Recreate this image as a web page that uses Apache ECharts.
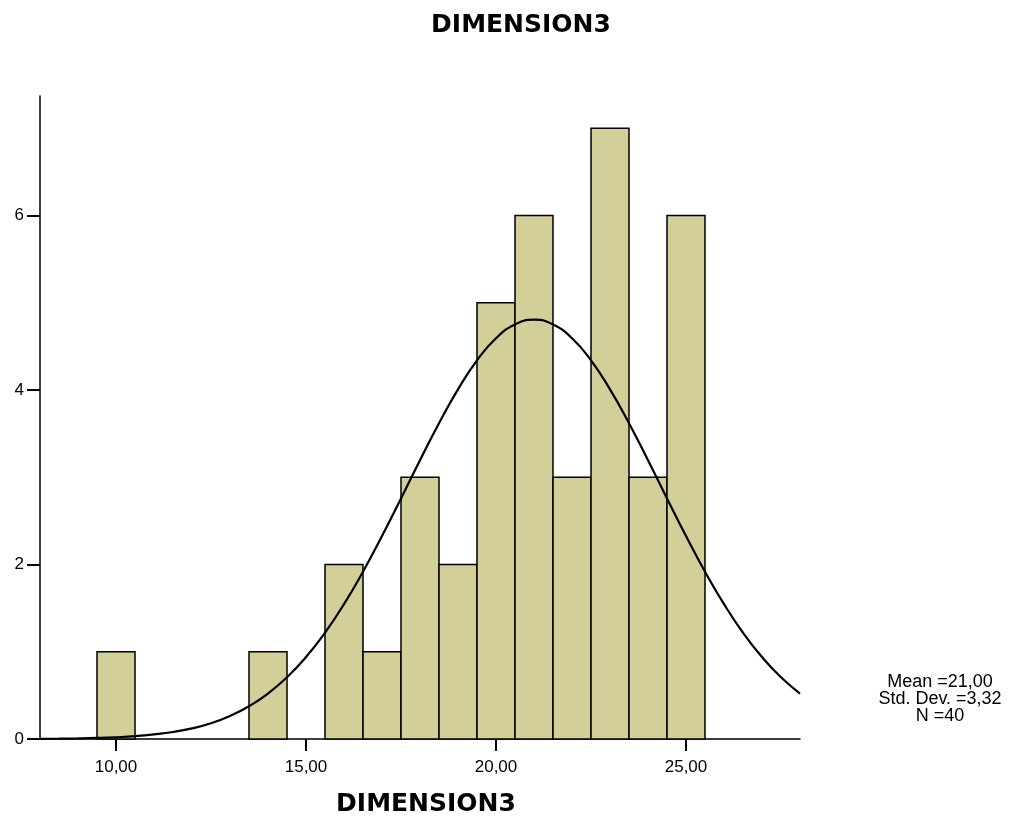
<!DOCTYPE html>
<html>
<head>
<meta charset="utf-8">
<script src="https://cdn.jsdelivr.net/npm/echarts@6/dist/echarts.min.js"></script>
<style>html,body{margin:0;padding:0;background:#fff}#c{width:1011px;height:817px}</style>
</head>
<body>
<div id="c"></div>
<script>
// Histogram bins (center value) and frequencies
const binCenters = [10, 14, 16, 17, 18, 19, 20, 21, 22, 23, 24, 25];
const binCounts  = [1, 1, 2, 1, 3, 2, 5, 6, 3, 7, 3, 6];
const binWidth = 1;
// Normal curve
const curveX = [8, 8.5, 9, 9.5, 10, 10.5, 11, 11.5, 12, 12.5, 13, 13.5, 14, 14.5, 15, 15.5, 16, 16.5, 17, 17.5, 18, 18.5, 19, 19.5, 20, 20.5, 21, 21.5, 22, 22.5, 23, 23.5, 24, 24.5, 25, 25.5, 26, 26.5, 27, 27.5, 28];
const curveY = [0.002, 0.004, 0.007, 0.012, 0.020, 0.032, 0.052, 0.080, 0.122, 0.181, 0.264, 0.375, 0.521, 0.707, 0.939, 1.218, 1.546, 1.918, 2.326, 2.757, 3.195, 3.619, 4.008, 4.340, 4.593, 4.752, 4.806, 4.752, 4.593, 4.340, 4.008, 3.619, 3.195, 2.757, 2.326, 1.918, 1.546, 1.218, 0.939, 0.707, 0.521];
const xTickValues = [10, 15, 20, 25];
const yTickValues = [0, 2, 4, 6];
const statsLines = ['Mean =21,00', 'Std. Dev. =3,32', 'N =40'];
const titleText = 'DIMENSION3';

const chart = echarts.init(document.getElementById('c'), null, {renderer: 'canvas'});
const font = 'Liberation Sans, Arial, sans-serif';
const boldFont = 'DejaVu Sans, Liberation Sans, sans-serif';

const barData = binCenters.map((c, i) => [c - binWidth / 2, c + binWidth / 2, binCounts[i]]);
const lineData = curveX.map((x, i) => [x, curveY[i]]);

chart.setOption({
  animation: false,
  backgroundColor: '#fff',
  title: {
    text: titleText,
    left: 516, top: 8, textAlign: 'center',
    textStyle: {fontFamily: boldFont, fontSize: 25, fontWeight: 'bold', color: '#000'}
  },
  graphic: [{
    type: 'text',
    x: 940, y: 674,
    style: {
      text: statsLines.join('\n'),
      fontFamily: font, fontSize: 18, lineHeight: 17, fill: '#000',
      align: 'center', verticalAlign: 'top'
    }
  }],
  grid: {left: 40, right: 211, top: 96, bottom: 78, containLabel: false, outerBoundsMode: 'none'},
  xAxis: {
    type: 'value', min: 8, max: 28,
    name: titleText, nameLocation: 'middle', nameGap: 53,
    nameTextStyle: {fontFamily: boldFont, fontSize: 25, fontWeight: 'bold', color: '#000', padding: [0, 0, 0, 12]},
    axisLine: {show: true, onZero: false, lineStyle: {color: '#000', width: 1.5}},
    axisTick: {show: true, length: 12, lineStyle: {color: '#000', width: 2}, customValues: xTickValues},
    axisLabel: {show: true, margin: 20, fontFamily: font, fontSize: 17, color: '#000', customValues: xTickValues,
      formatter: v => v.toFixed(2).replace('.', ',')},
    splitLine: {show: false}
  },
  yAxis: {
    type: 'value', min: 0, max: 7.37,
    axisLine: {show: true, lineStyle: {color: '#000', width: 1.5}},
    axisTick: {show: true, length: 13, lineStyle: {color: '#000', width: 2}, customValues: yTickValues},
    axisLabel: {show: true, margin: 16, fontFamily: font, fontSize: 17, color: '#000', customValues: yTickValues},
    splitLine: {show: false}
  },
  series: [{
    type: 'custom',
    data: barData,
    z: 2,
    renderItem: function (params, api) {
      const p0 = api.coord([api.value(0), api.value(2)]);
      const p1 = api.coord([api.value(1), 0]);
      return {
        type: 'rect',
        shape: {x: p0[0], y: p0[1], width: p1[0] - p0[0], height: p1[1] - p0[1]},
        style: {fill: '#d3cf98', stroke: '#000', lineWidth: 1.5}
      };
    }
  }, {
    type: 'line',
    data: lineData,
    smooth: true,
    showSymbol: false,
    z: 3,
    lineStyle: {color: '#000', width: 2.2}
  }]
});
</script>
</body>
</html>
